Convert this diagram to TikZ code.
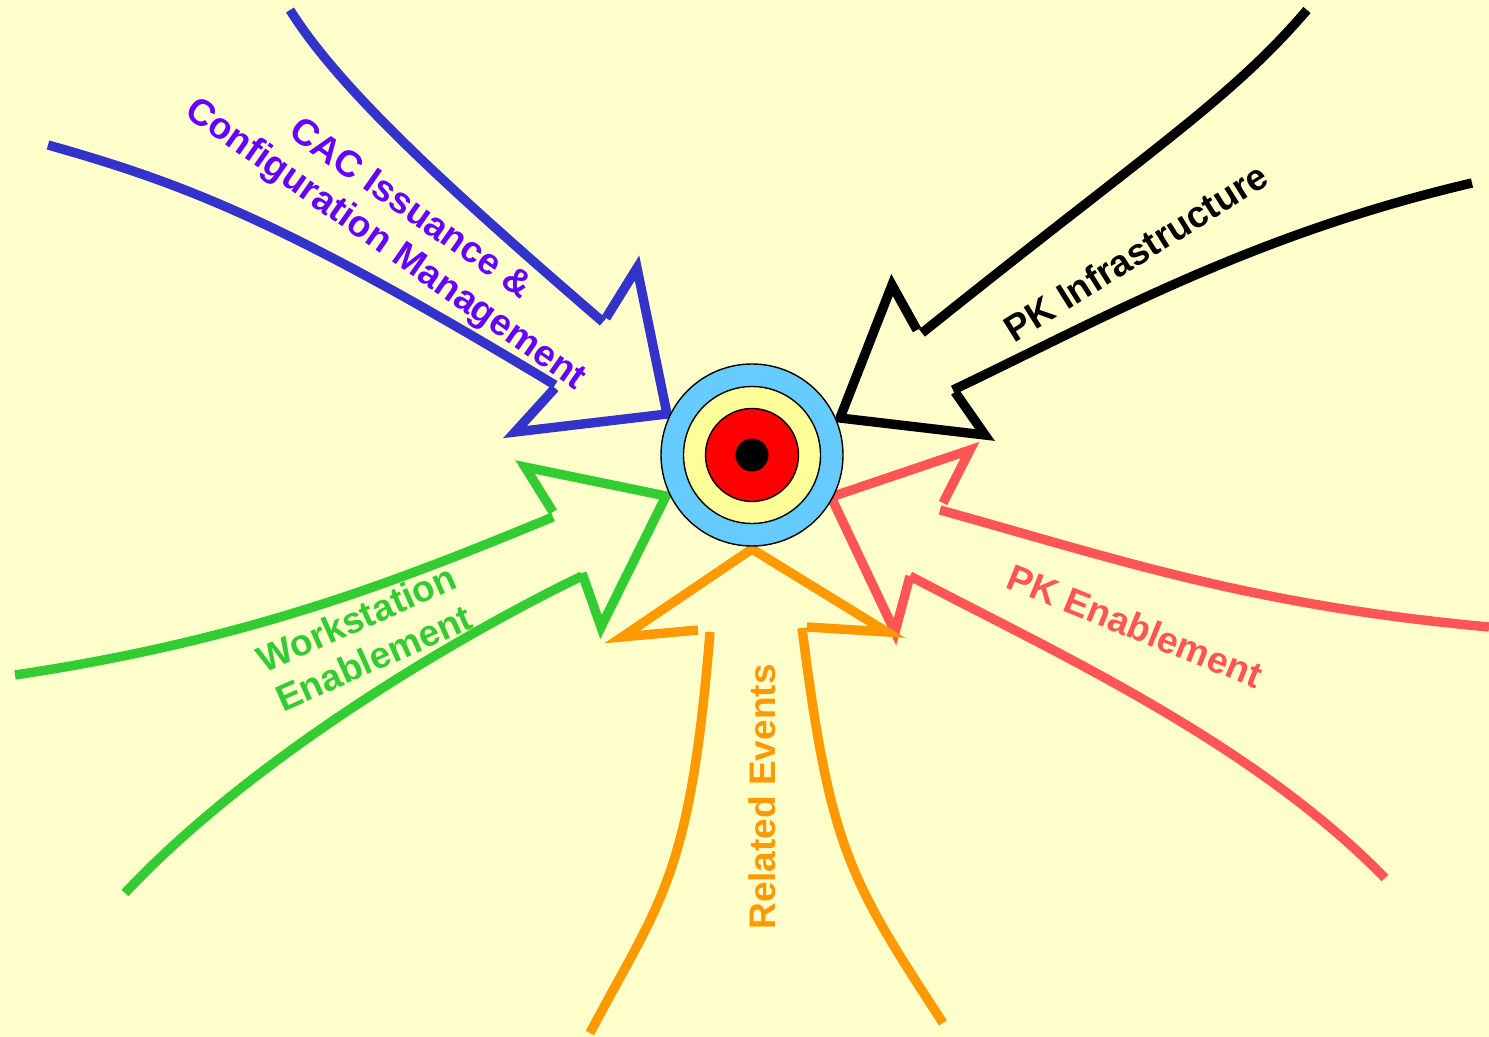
\documentclass[tikz,border=0pt]{standalone}
\usepackage{fontspec}
\setmainfont{Liberation Sans}
\usetikzlibrary{positioning}
\definecolor{PaperYellow}{HTML}{FFFFCC}
\definecolor{CacBlue}{HTML}{3333CC}
\definecolor{CacText}{HTML}{6600FF}
\definecolor{WsGreen}{HTML}{33CC33}
\definecolor{EvOrange}{HTML}{FF9900}
\definecolor{PkRed}{HTML}{FF5555}
\definecolor{RingBlue}{HTML}{66CCFF}
\definecolor{RingYellow}{HTML}{FFFF99}

\begin{document}
\begin{tikzpicture}[
  x=0.5pt, y=-0.5pt,
  shaft/.style={line width=4.7pt},
  head/.style={line width=4.7pt, line join=miter, miter limit=12},
  tag/.style={font=\bfseries\fontsize{18.5}{21.5}\selectfont, align=center, inner sep=0pt},
  ring/.style={circle, draw=black, line width=0.7pt, inner sep=0pt}
]
\fill[PaperYellow] (0,0) rectangle (1489,1037);
\useasboundingbox (0,0) rectangle (1489,1037);

% CAC issuance arrow
\draw[shaft, CacBlue] (290,10) .. controls (340,90) and (450,190) .. (603,322);
\draw[shaft, CacBlue] (48,145) .. controls (190,185) and (290,225) .. (555,385);
\draw[head, CacBlue] (606,318) -- (637,268) -- (667,414) -- (515,432) -- (555,388);
\node[tag, CacText, rotate=-35] (cac) at (397,228) {CAC Issuance \&\\Configuration Management};

% PK infrastructure arrow
\draw[shaft, black] (1307,10) .. controls (1230,100) and (1150,150) .. (922,333);
\draw[shaft, black] (953,390) .. controls (1100,320) and (1250,235) .. (1472,183);
\draw[head, black] (917,330) -- (892,285) -- (840,418) -- (985,435) -- (955,392);
\node[tag, black, rotate=32] (pki) at (1136,252) {PK Infrastructure};

% PK enablement arrow
\draw[shaft, PkRed] (940,510) .. controls (1120,560) and (1250,605) .. (1489,627);
\draw[shaft, PkRed] (910,576) .. controls (1050,650) and (1250,740) .. (1385,878);
\draw[head, PkRed] (943,503) -- (970,450) -- (831,497) -- (895,632) -- (910,576);
\node[tag, PkRed, rotate=-22] (pke) at (1135,626) {PK Enablement};

% related events arrow
\draw[shaft, EvOrange] (710,632) .. controls (690,880) and (660,900) .. (590,1033);
\draw[shaft, EvOrange] (802,628) .. controls (830,850) and (850,880) .. (943,1023);
\draw[head, EvOrange] (698,630) -- (622,637) -- (752,549) -- (887,632) -- (807,627);
\node[tag, EvOrange, rotate=90] (rel) at (762,797) {Related Events};

% workstation enablement arrow
\draw[shaft, WsGreen] (553,517) .. controls (400,580) and (250,640) .. (15,675);
\draw[shaft, WsGreen] (582,576) .. controls (450,640) and (250,760) .. (125,893);
\draw[head, WsGreen] (553,512) -- (525,467) -- (666,496) -- (601,627) -- (582,573);
\node[tag, WsGreen, rotate=24] (wse) at (365,638) {Workstation\\Enablement};

% target
\node[ring, fill=RingBlue, minimum size=91pt] (outer) at (752,455) {};
\node[ring, fill=RingYellow, minimum size=68.5pt] (middle) at (outer.center) {};
\node[ring, fill=red, minimum size=46.5pt] (inner) at (outer.center) {};
\node[circle, fill=black, inner sep=0pt, minimum size=16.5pt] (bull) at (outer.center) {};
\end{tikzpicture}
\end{document}
